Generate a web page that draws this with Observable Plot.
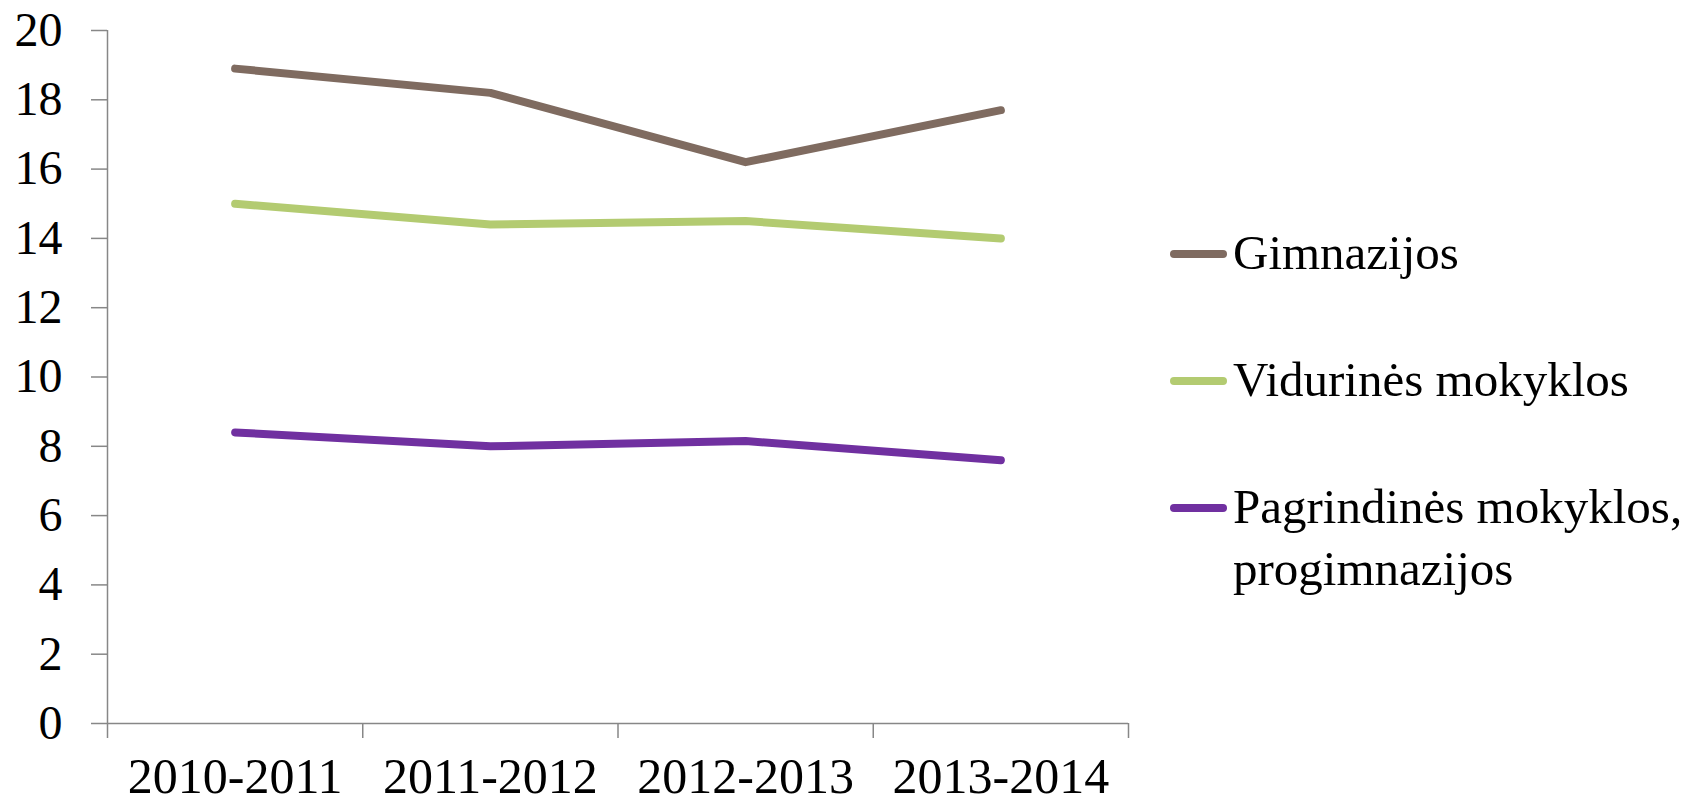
<!DOCTYPE html>
<html>
<head>
<meta charset="utf-8">
<script src="https://cdn.jsdelivr.net/npm/d3@7"></script>
<script src="https://cdn.jsdelivr.net/npm/@observablehq/plot@0.6"></script>
<style>
  html, body { margin: 0; padding: 0; background: #fff; }
  #wrap { position: relative; width: 1707px; height: 804px; font-family: "Liberation Serif", serif; }
  #legend { position: absolute; left: 1170px; top: 222px; font-size: 49px; line-height: 62px; color: #000; }
  .item { display: flex; align-items: flex-start; margin-bottom: 65px; }
  .sw { width: 57px; height: 8px; border-radius: 4px; margin-top: 28px; flex: none; }
  .lab { margin-left: 6px; white-space: nowrap; }
</style>
</head>
<body>
<div id="wrap"><div id="chart"></div><div id="legend"></div></div>
<script>
const categories = ["2010-2011", "2011-2012", "2012-2013", "2013-2014"];
const seriesNames = ["Gimnazijos", "Vidurinės mokyklos", "Pagrindinės mokyklos, progimnazijos"];
const legendLines = [["Gimnazijos"], ["Vidurinės mokyklos"], ["Pagrindinės mokyklos,", "progimnazijos"]];
const gimnazijos = [18.9, 18.2, 16.2, 17.7];
const vidurines = [15.0, 14.4, 14.5, 14.0];
const pagrindines = [8.4, 8.0, 8.15, 7.6];
const seriesColors = ["#7f6b60", "#b3cb71", "#7030a0"];
const yTicks = [0, 2, 4, 6, 8, 10, 12, 14, 16, 18, 20];

const seriesValues = [gimnazijos, vidurines, pagrindines];
const data = [];
seriesNames.forEach((name, s) => {
  seriesValues[s].forEach((v, i) => data.push({series: name, xi: i + 0.5, value: v}));
});

const axisColor = "#878787";
const chart = Plot.plot({
  width: 1150,
  height: 804,
  marginLeft: 107,
  marginRight: 22,
  marginTop: 30,
  marginBottom: 81,
  style: {fontFamily: "Liberation Serif", fontSize: "48px", color: "#000", background: "#fff"},
  x: {type: "linear", domain: [0, categories.length]},
  y: {domain: [0, 20]},
  color: {domain: seriesNames, range: seriesColors},
  marks: [
    Plot.axisY({ticks: yTicks, tickSize: 16, tickPadding: 29, stroke: axisColor, strokeWidth: 1.5, label: null}),
    Plot.axisX({ticks: d3.range(categories.length + 1), tickSize: 15, tickFormat: () => "", stroke: axisColor, strokeWidth: 1.5, label: null}),
    Plot.axisX({ticks: categories.map((_, i) => i + 0.5), tickSize: 0, tickPadding: 34, fontSize: 50, tickFormat: (d) => categories[Math.floor(d)], label: null}),
    Plot.ruleX([0], {stroke: axisColor, strokeWidth: 1.5}),
    Plot.ruleY([0], {stroke: axisColor, strokeWidth: 1.5}),
    Plot.line(data, {x: "xi", y: "value", stroke: "series", strokeWidth: 8, strokeLinecap: "round", strokeLinejoin: "round"})
  ]
});
document.getElementById("chart").appendChild(chart);

const legend = document.getElementById("legend");
seriesNames.forEach((name, i) => {
  const item = document.createElement("div");
  item.className = "item";
  const sw = document.createElement("div");
  sw.className = "sw";
  sw.style.background = seriesColors[i];
  const lab = document.createElement("div");
  lab.className = "lab";
  lab.innerHTML = legendLines[i].join("<br>");
  item.appendChild(sw);
  item.appendChild(lab);
  legend.appendChild(item);
});
</script>
</body>
</html>
